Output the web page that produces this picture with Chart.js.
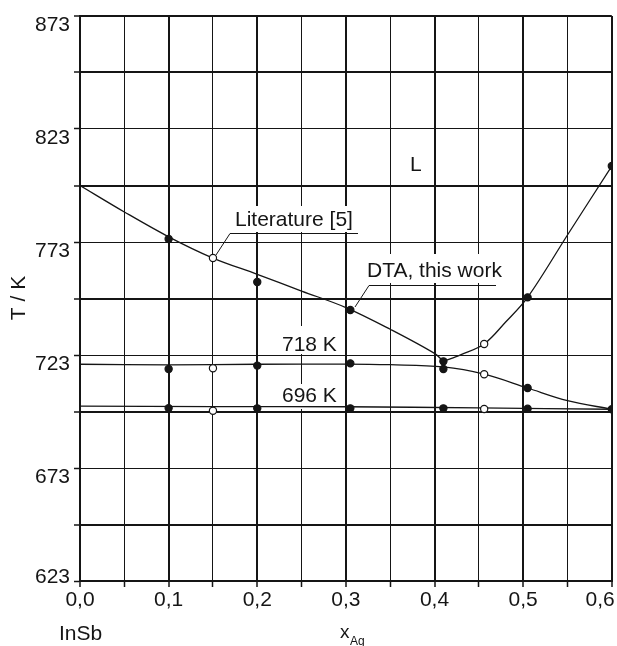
<!DOCTYPE html>
<html>
<head>
<meta charset="utf-8">
<script src="https://cdn.jsdelivr.net/npm/chart.js@4/dist/chart.umd.min.js"></script>
<style>
  html, body { margin: 0; padding: 0; background: #fff; }
  canvas { display: block; }
</style>
</head>
<body>
<canvas id="phaseChart" width="617" height="646"></canvas>
<script>
// curves: x(Ag) and T / K
const liquidusLeftX = [0, 0.05, 0.1, 0.15, 0.2, 0.25, 0.3, 0.35, 0.4, 0.41];
const liquidusLeftT = [798, 786.3, 775.3, 765.9, 758.7, 751.3, 744, 734.4, 723.7, 720.2];
const liquidusRightX = [0.41, 0.43, 0.456, 0.48, 0.505, 0.55, 0.6];
const liquidusRightT = [720.2, 723.2, 727.9, 737.5, 748.5, 776.1, 806.6];
const line718X = [0, 0.1, 0.2, 0.3, 0.35, 0.41, 0.456, 0.505, 0.55, 0.6];
const line718T = [718.9, 718.6, 718.9, 719, 718.7, 717.7, 714.5, 708.4, 702.8, 699];
const line696X = [0, 0.15, 0.3, 0.45, 0.6];
const line696T = [700.4, 700.2, 700.1, 699.6, 699];

// DTA, this work (filled dots)
const dtaLiquidusX = [0.1, 0.2, 0.305, 0.41, 0.505, 0.6];
const dtaLiquidusT = [774.3, 755.3, 742.9, 720.2, 748.5, 806.6];
const dta718X = [0.1, 0.2, 0.305, 0.41, 0.505, 0.6];
const dta718T = [716.8, 718.3, 719.3, 716.8, 708.4, 699];
const dta696X = [0.1, 0.2, 0.305, 0.41, 0.505];
const dta696T = [699.5, 699.4, 699.4, 699.4, 699.2];

// Literature [5] (open circles)
const litX = [0.15, 0.15, 0.15, 0.456, 0.456, 0.456];
const litT = [765.9, 717.1, 698.3, 727.9, 714.5, 699.1];

// tick labels
const xTickLabels = ['0,0', '0,1', '0,2', '0,3', '0,4', '0,5', '0,6    '];
const yTickLabels = [623, 673, 723, 773, 823, 873];

const pts = (xs, ys) => xs.map((x, i) => ({ x: x, y: ys[i] }));
const ink = '#151515';
const fontFamily = '"Liberation Sans", Arial, sans-serif';

Chart.defaults.font.family = fontFamily;
Chart.defaults.font.size = 21;
Chart.defaults.color = ink;

function dots(data, fill) {
  return {
    data: data, showLine: false, order: 0, clip: 0,
    pointRadius: 3.6, pointBorderWidth: 1.2,
    pointBackgroundColor: fill, pointBorderColor: ink
  };
}
function curve(data) {
  return {
    data: data, showLine: true, order: 1, pointRadius: 0,
    borderColor: ink, borderWidth: 1.3, tension: 0.35
  };
}

const annotations = {
  id: 'annotations',
  beforeDatasetsDraw(chart) {
    const ctx = chart.ctx;
    ctx.save();
    ctx.fillStyle = '#fff';
    ctx.fillRect(230, 206, 128, 26);
    ctx.fillRect(366, 254, 138, 29);
    ctx.fillRect(279, 326, 60, 28);
    ctx.fillRect(279, 384, 60, 25);

    ctx.fillStyle = ink;
    ctx.font = '21px ' + fontFamily;
    ctx.textBaseline = 'alphabetic';
    ctx.fillText('Literature [5]', 235, 226);
    ctx.fillText('DTA, this work', 367, 277);
    ctx.fillText('718 K', 282, 351);
    ctx.fillText('696 K', 282, 402);
    ctx.fillText('L', 410, 171);
    ctx.fillText('InSb', 59, 640);

    ctx.font = '19px ' + fontFamily;
    ctx.fillText('x', 340, 638);
    ctx.font = '12px ' + fontFamily;
    ctx.fillText('Ag', 350, 645);

    ctx.font = '21px ' + fontFamily;
    ctx.translate(19, 298);
    ctx.rotate(-Math.PI / 2);
    ctx.textAlign = 'center';
    ctx.textBaseline = 'middle';
    ctx.fillText('T / K', 0, 0);
    ctx.restore();

    ctx.save();
    ctx.strokeStyle = ink;
    ctx.lineWidth = 1;
    ctx.beginPath();
    ctx.moveTo(358, 233.5); ctx.lineTo(230, 233.5); ctx.lineTo(216, 255);
    ctx.moveTo(496, 285.5); ctx.lineTo(369, 285.5); ctx.lineTo(355, 307);
    ctx.stroke();
    ctx.restore();
  }
};

const ctx = document.getElementById('phaseChart').getContext('2d');
const phaseChart = new Chart(ctx, {
  type: 'scatter',
  data: {
    datasets: [
      dots(pts(dtaLiquidusX, dtaLiquidusT), ink),
      dots(pts(dta718X, dta718T), ink),
      dots(pts(dta696X, dta696T), ink),
      dots(pts(litX, litT), '#fff'),
      curve(pts(liquidusLeftX, liquidusLeftT)),
      curve(pts(liquidusRightX, liquidusRightT)),
      curve(pts(line718X, line718T)),
      curve(pts(line696X, line696T))
    ]
  },
  options: {
    responsive: false,
    animation: false,
    events: [],
    layout: { padding: { top: 16, right: 3, left: 0, bottom: 0 } },
    plugins: { legend: { display: false }, tooltip: { enabled: false } },
    scales: {
      x: {
        type: 'linear', min: 0, max: 0.6,
        afterFit: (s) => { s.height = 65; s.paddingLeft = 0; s.paddingRight = 0; },
        border: { color: ink, width: 2 },
        grid: {
          color: ink, tickColor: ink, tickLength: 6, tickWidth: 1.5,
          lineWidth: (c) => (Math.round(c.tick.value * 20) % 2 === 0 ? 2 : 1)
        },
        ticks: {
          stepSize: 0.05, autoSkip: false, maxRotation: 0, padding: 1,
          callback: (v) => {
            const i = Math.round(v * 20);
            return i % 2 === 0 ? xTickLabels[i / 2] : '';
          }
        }
      },
      y: {
        type: 'linear', min: 623, max: 873,
        afterFit: (s) => { s.width = 80; s.paddingTop = 0; s.paddingBottom = 0; },
        border: { color: ink, width: 2 },
        grid: {
          color: ink, tickColor: ink, tickLength: 6, tickWidth: 1.5,
          lineWidth: (c) => ((c.tick.value - 623) % 50 === 25 || c.tick.value === 873 ? 2 : 1)
        },
        ticks: {
          stepSize: 25, autoSkip: false, padding: 4, labelOffset: 9,
          callback: (v) => {
            const i = yTickLabels.indexOf(v);
            if (i < 0) return '';
            return i === 0 ? [String(v), ''] : String(v);
          }
        }
      }
    }
  },
  plugins: [annotations]
});
</script>
</body>
</html>
